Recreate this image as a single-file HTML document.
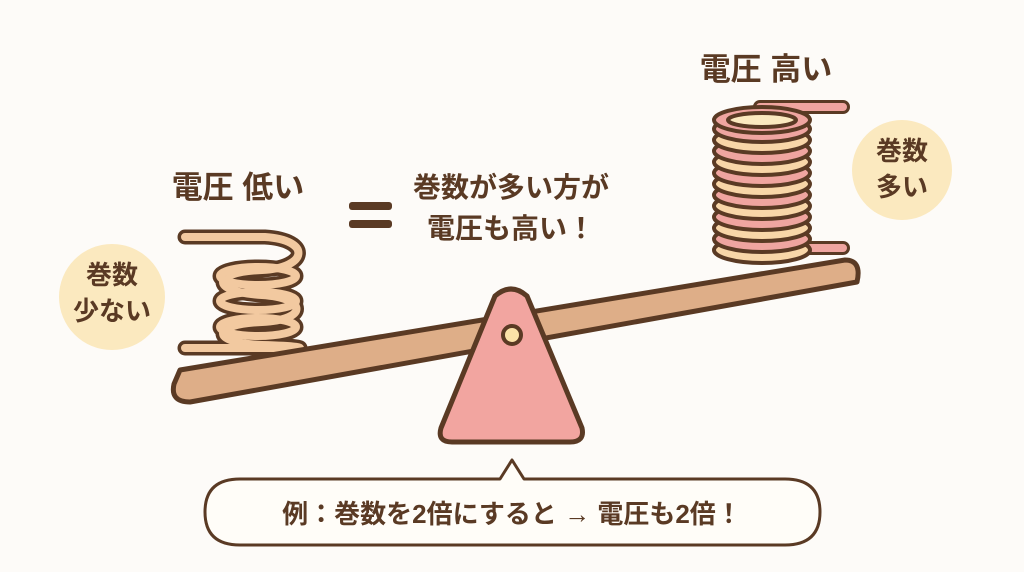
<!DOCTYPE html>
<html><head><meta charset="utf-8"><style>
body{margin:0;width:1024px;height:572px;background:#fdfbf8;overflow:hidden}
svg{display:block}
text{font-family:"Liberation Sans","Noto Sans CJK JP",sans-serif;font-weight:bold;fill:#5a3a24}
</style></head><body>
<svg width="1024" height="572" viewBox="0 0 1024 572">
<circle cx="112" cy="297" r="53" fill="#fbe9bf"/>
<circle cx="902" cy="170" r="50" fill="#fbe9bf"/>
<text x="112" y="284" font-size="26" text-anchor="middle">巻数</text>
<text x="112" y="320" font-size="26" text-anchor="middle">少ない</text>
<text x="902" y="160" font-size="26" text-anchor="middle">巻数</text>
<text x="902" y="196" font-size="26" text-anchor="middle">多い</text>
<text x="238" y="198" font-size="31" text-anchor="middle">電圧 低い</text>
<text x="766" y="80" font-size="31" text-anchor="middle">電圧 高い</text>
<text x="511" y="197" font-size="28" text-anchor="middle">巻数が多い方が</text>
<text x="511" y="238" font-size="28" text-anchor="middle">電圧も高い！</text>
<rect x="349" y="202" width="43" height="8" rx="3" fill="#5a3a24"/>
<rect x="349" y="220" width="43" height="8" rx="3" fill="#5a3a24"/>
<!-- left coil -->
<g fill="none" stroke-linecap="round">
<g stroke="#5a3a24" stroke-width="15">
<path d="M185 237 H265 C312 240 308 268 262 270 C210 272 210 292 262 295 C308 298 308 320 262 322 C210 324 210 343 262 345 C302 346 300 348 300 348 M185 348 H296"/>
<ellipse cx="258" cy="276" rx="38" ry="9"/><ellipse cx="258" cy="301" rx="38" ry="9"/><ellipse cx="258" cy="327" rx="38" ry="9"/>
</g>
<g stroke="#f2c9a0" stroke-width="8">
<path d="M185 237 H265 C312 240 308 268 262 270 C210 272 210 292 262 295 C308 298 308 320 262 322 C210 324 210 343 262 345 C302 346 300 348 300 348 M185 348 H296"/>
<ellipse cx="258" cy="276" rx="38" ry="9"/><ellipse cx="258" cy="301" rx="38" ry="9"/><ellipse cx="258" cy="327" rx="38" ry="9"/>
</g>
</g>
<!-- right coil -->
<g stroke-linecap="round" fill="none">
<path d="M760 107 H843 M800 248 H843" stroke="#5a3a24" stroke-width="14"/>
<path d="M760 107 H843 M800 248 H843" stroke="#efa5a0" stroke-width="8"/>
</g>
<g stroke="#5a3a24" stroke-width="4">
<ellipse cx="762" cy="250" rx="48" ry="13" fill="#f8d6a8"/>
<ellipse cx="762" cy="239" rx="48" ry="13" fill="#efa5a0"/>
<ellipse cx="762" cy="228" rx="48" ry="13" fill="#f8d6a8"/>
<ellipse cx="762" cy="217" rx="48" ry="13" fill="#efa5a0"/>
<ellipse cx="762" cy="206" rx="48" ry="13" fill="#f8d6a8"/>
<ellipse cx="762" cy="195" rx="48" ry="13" fill="#efa5a0"/>
<ellipse cx="762" cy="184" rx="48" ry="13" fill="#f8d6a8"/>
<ellipse cx="762" cy="173" rx="48" ry="13" fill="#efa5a0"/>
<ellipse cx="762" cy="162" rx="48" ry="13" fill="#f8d6a8"/>
<ellipse cx="762" cy="151" rx="48" ry="13" fill="#efa5a0"/>
<ellipse cx="762" cy="140" rx="48" ry="13" fill="#f8d6a8"/>
<ellipse cx="762" cy="129" rx="48" ry="13" fill="#efa5a0"/>
<ellipse cx="762" cy="120" rx="48" ry="13" fill="#efa5a0"/>
<ellipse cx="762" cy="120" rx="34" ry="7" fill="#fbe9bf"/>
</g>
<!-- beam -->
<path d="M180 370 L845 260 Q862 260 857 282 L190 402 Q170 402 174 384 Z" fill="#deae88" stroke="#5a3a24" stroke-width="5" stroke-linejoin="round"/>
<!-- fulcrum -->
<path d="M495 296 Q511 282 527 296 L582 428 Q585 442 570 442 L452 442 Q437 442 441 428 Z" fill="#f2a5a0" stroke="#5a3a24" stroke-width="5" stroke-linejoin="round"/>
<circle cx="512" cy="335" r="9" fill="#fbe2a8" stroke="#5a3a24" stroke-width="4"/>
<!-- bubble -->
<path d="M240 479 H500 L512 460 L524 479 H785 Q820 479 820 512 Q820 545 785 545 H240 Q205 545 205 512 Q205 479 240 479 Z" fill="#fffdf8" stroke="#5a3a24" stroke-width="3" stroke-linejoin="round"/>
<text x="512" y="523" font-size="26" text-anchor="middle">例：巻数を2倍にすると → 電圧も2倍！</text>
</svg>
</body></html>
